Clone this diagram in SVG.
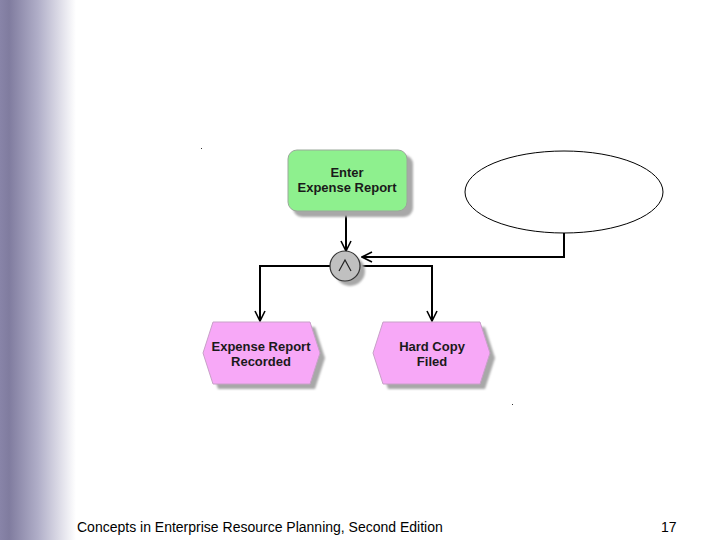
<svg xmlns="http://www.w3.org/2000/svg" width="720" height="540" viewBox="0 0 720 540">
<defs>
<linearGradient id="side" x1="0" y1="0" x2="1" y2="0">
<stop offset="0" stop-color="#8884a8"/>
<stop offset="0.12" stop-color="#807c9f"/>
<stop offset="0.5" stop-color="#b0aec8"/>
<stop offset="1" stop-color="#ffffff"/>
</linearGradient>
<marker id="arr" viewBox="0 0 12 12" refX="11" refY="6" markerWidth="12" markerHeight="12" markerUnits="userSpaceOnUse" orient="auto">
<path d="M1,1 L11,6 L1,11" fill="none" stroke="#000" stroke-width="1.6"/>
</marker>
<filter id="blur" x="-20%" y="-20%" width="140%" height="140%"><feGaussianBlur stdDeviation="1"/></filter>
</defs>
<style>
.lbl{font-family:"Liberation Sans",Arial,sans-serif;font-weight:bold;font-size:13px;fill:#1a1a1a;text-anchor:middle}
.shadow{fill:#a8a8a8;filter:url(#blur)}
.conn{fill:none;stroke:#000;stroke-width:2}
.foot{font-family:"Liberation Sans",Arial,sans-serif;font-size:14px;fill:#000}
</style>
<rect width="720" height="540" fill="#fff"/>
<rect x="0" y="0" width="76" height="540" fill="url(#side)"/>
<rect x="201" y="148" width="1" height="1" fill="#333"/>
<rect x="512" y="404" width="1" height="1" fill="#333"/>

<g id="connectors">
<path class="conn" d="M346,211 L346,251" marker-end="url(#arr)"/>
<path class="conn" d="M564,233 L564,257 L362,257" marker-end="url(#arr)"/>
<path class="conn" d="M330,266 L260,266 L260,321" marker-end="url(#arr)"/>
<path class="conn" d="M360,266 L432,266 L432,321" marker-end="url(#arr)"/>
</g>

<g id="enter-expense-report">
<rect class="shadow" x="293" y="155" width="120" height="62" rx="9"/>
<rect x="288" y="150" width="119" height="61" rx="9" fill="#8ef08e" stroke="#9aa89a" stroke-width="1"/>
<text class="lbl" x="347" y="177">Enter</text>
<text class="lbl" x="347" y="192">Expense Report</text>
</g>

<g id="and-connector">
<circle class="shadow" cx="350" cy="271" r="15"/>
<circle cx="345" cy="266" r="15" fill="#c0c0c0" stroke="#333" stroke-width="1.2"/>
<path d="M339,271 L345,260 L351,271" fill="none" stroke="#222" stroke-width="1.2"/>
</g>

<g id="ellipse">
<ellipse cx="564" cy="192" rx="99" ry="41" fill="#fff" stroke="#000" stroke-width="1"/>
</g>

<g id="expense-report-recorded">
<polygon class="shadow" points="218,327 315,327 325,358 315,389 218,389 208,358"/>
<polygon points="213,322 310,322 320,353 310,384 213,384 203,353" fill="#f7a8f7" stroke="#c8a0c8" stroke-width="1"/>
<text class="lbl" x="261" y="351">Expense Report</text>
<text class="lbl" x="261" y="366">Recorded</text>
</g>

<g id="hard-copy-filed">
<polygon class="shadow" points="388,327 485,327 495,358 485,389 388,389 378,358"/>
<polygon points="383,322 480,322 490,353 480,384 383,384 373,353" fill="#f7a8f7" stroke="#c8a0c8" stroke-width="1"/>
<text class="lbl" x="432" y="351">Hard Copy</text>
<text class="lbl" x="432" y="366">Filed</text>
</g>

<text class="foot" x="77" y="532">Concepts in Enterprise Resource Planning, Second Edition</text>
<text class="foot" x="661" y="532">17</text>
</svg>
